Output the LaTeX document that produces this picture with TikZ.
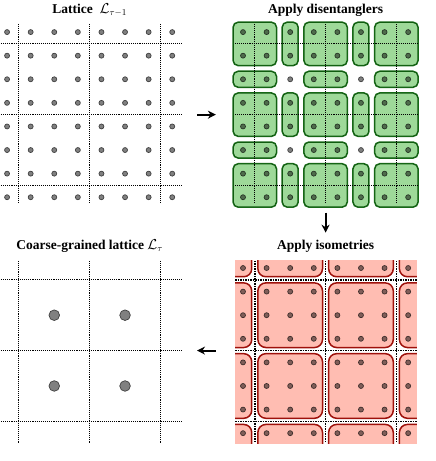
\documentclass[tikz,border=0pt]{standalone}
\usepackage{fontspec}
\setmainfont{Liberation Serif}
\usetikzlibrary{arrows.meta}
\definecolor{sitegray}{rgb}{0.5, 0.5, 0.5}
\definecolor{siteedge}{rgb}{0.25, 0.25, 0.25}
\definecolor{disentfill}{rgb}{0.62, 0.85, 0.6}
\definecolor{disentedge}{rgb}{0.1, 0.42, 0.1}
\definecolor{isofill}{rgb}{1.0, 0.74, 0.7}
\definecolor{isoedge}{rgb}{0.62, 0.08, 0.05}

\tikzset{
    site/.style={fill=sitegray, draw=siteedge, line width=0.7pt},
    cut/.style={dash pattern=on 1.1pt off 1pt, line width=1.1pt},
    thickcut/.style={dash pattern=on 1.5pt off 1pt, line width=1.6pt},
    disent/.style={fill=disentfill, draw=disentedge, line width=1.5pt, rounded corners=5pt},
    iso/.style={fill=isofill, draw=isoedge, line width=1.5pt, rounded corners=8pt},
    title/.style={font=\bfseries\fontsize{13.5}{16}\selectfont, anchor=base},
    flow/.style={-{Stealth[length=8pt,width=8pt]}, line width=2pt}
}

\begin{document}
\begin{tikzpicture}[x=23.6pt, y=23.6pt]
    \useasboundingbox (-0.3,1.36) rectangle (18.18,-18.18);

                % Lattice L_{tau-1}
                \node[title] (lat) at (3.5,0.8) {Lattice~~$\mathcal{L}_{\tau-1}$};
                \foreach \c in {0.5,3.5,6.5} {
                    \draw[cut] (\c,0.35) -- (\c,-7.3);
                    \draw[cut] (-0.35,-\c) -- (7.4,-\c);
                }
                \foreach \i in {0,...,7}
                    \foreach \j in {0,...,7}
                        \filldraw[site] (\i,-\j) circle (2.5pt);

                % Disentanglers
                \begin{scope}[shift={(10,0)}]
                \node[title] (dis) at (3.5,0.8) {Apply disentanglers};
                \foreach \c in {0.5,3.5,6.5} {
                    \draw[cut] (\c,0.35) -- (\c,-7.3);
                    \draw[cut] (-0.35,-\c) -- (7.4,-\c);
                }
                \foreach \i in {0,...,7}
                    \foreach \j in {0,...,7}
                        \filldraw[site] (\i,-\j) circle (2.5pt);
                \begin{scope}[blend mode=multiply]
                \foreach \a/\b/\p in {0/1/0.42, 2/2/0.34, 3/4/0.42, 5/5/0.34, 6/7/0.42}
                    \foreach \r/\s in {0/1, 3/4, 6/7}
                        \draw[disent] (\a-\p,-\r+0.42) rectangle (\b+\p,-\s-0.42);
                \foreach \a/\b in {0/1, 3/4, 6/7}
                    \foreach \r in {2,5}
                        \draw[disent] (\a-0.42,-\r+0.34) rectangle (\b+0.42,-\r-0.34);
                \end{scope}
                \end{scope}

                % Isometries
                \begin{scope}[shift={(10,-10)}]
                \node[title] (iso) at (3.5,0.8) {Apply isometries};
                \foreach \i in {0,...,7}
                    \foreach \j in {0,...,7}
                        \filldraw[site] (\i,-\j) circle (2.5pt);
                \begin{scope}
                \clip (-0.33,0.3) rectangle (7.37,-7.42);
                \begin{scope}[blend mode=multiply]
                \foreach \a in {-2.5,0.5,3.5,6.5}
                    \foreach \r in {-2.5,0.5,3.5,6.5}
                        \draw[iso] (\a+0.13,-\r-0.13) rectangle (\a+2.87,-\r-2.87);
                \end{scope}
                \end{scope}
                \foreach \c in {0.5,3.5,6.5} {
                    \draw[thickcut] (\c,0.3) -- (\c,-7.42);
                    \draw[thickcut] (-0.33,-\c) -- (7.37,-\c);
                }
                \end{scope}

                % Coarse-grained lattice L_tau
                \begin{scope}[shift={(0,-10)}]
                \node[title] (cg) at (3.5,0.8) {Coarse-grained lattice~$\mathcal{L}_{\tau}$};
                \foreach \c in {0.5,3.5,6.5} {
                    \draw[cut] (\c,0.3) -- (\c,-7.42);
                    \draw[cut] (-0.35,-\c) -- (7.4,-\c);
                }
                \filldraw[site] (2,-2) circle (5.3pt);
                \filldraw[site] (5,-2) circle (5.3pt);
                \filldraw[site] (2,-5) circle (5.3pt);
                \filldraw[site] (5,-5) circle (5.3pt);
                \end{scope}

                % Steps
                \coordinate (a1) at (8.05,-3.5);
                \coordinate (b1) at (8.85,-3.5);
                \coordinate (a2) at (13.5,-7.65);
                \coordinate (b2) at (13.5,-8.5);
                \coordinate (a3) at (8.85,-13.5);
                \coordinate (b3) at (8.05,-13.5);
                \draw[flow] (a1) -- (b1);
                \draw[flow] (a2) -- (b2);
                \draw[flow] (a3) -- (b3);

\end{tikzpicture}
\end{document}
